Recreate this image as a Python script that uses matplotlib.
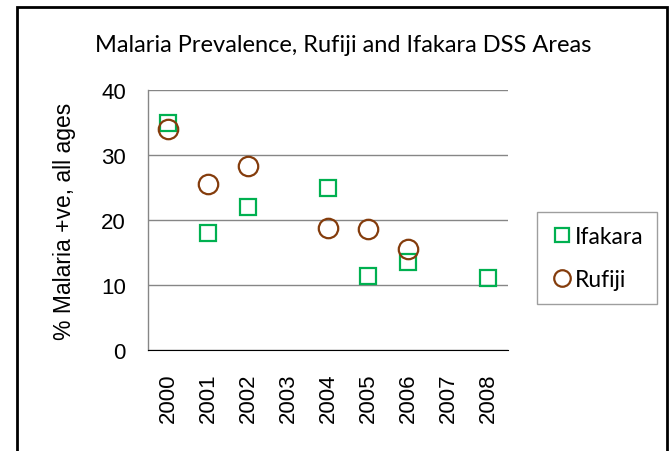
import matplotlib.pyplot as plt
from matplotlib.patches import Rectangle
import numpy as np

years = ['2000', '2001', '2002', '2003', '2004', '2005', '2006', '2007', '2008']
ifakara = [35.0, 18.0, 22.0, np.nan, 25.0, 11.4, 13.6, np.nan, 11.1]
rufiji = [34.0, 25.5, 28.3, np.nan, 18.8, 18.6, 15.5, np.nan, np.nan]

green = '#00B050'
brown = '#843C0C'

fig = plt.figure(figsize=(6.72, 4.52), dpi=100)
ax = fig.add_axes([148 / 672, 1 - 351 / 452, 360 / 672, 260 / 452])

x = np.arange(len(years))
ax.plot(x, ifakara, 's', ms=11.5, mfc='none', mec=green, mew=1.6, label='Ifakara', zorder=3)
ax.plot(x, rufiji, 'o', ms=14, mfc='none', mec=brown, mew=1.6, label='Rufiji', zorder=3)

ax.set_xlim(-0.5, len(years) - 0.5)
ax.set_ylim(0, 40)
ax.set_yticks([0, 10, 20, 30, 40])
ax.set_xticks(x)
ax.set_xticklabels(years, rotation=90, fontsize=16, family='Liberation Sans')
ax.tick_params(axis='y', labelsize=16, length=0, pad=16)
ax.tick_params(axis='x', length=0, pad=16)
for lab in ax.get_yticklabels():
    lab.set_family('Liberation Sans')
ax.grid(axis='y', color='#868686', lw=1)
ax.set_axisbelow(True)
for s in ['top', 'right']:
    ax.spines[s].set_visible(False)
ax.spines['left'].set_color('#868686')
ax.spines['bottom'].set_color('black')
ax.spines['left'].set_linewidth(1)
ax.set_ylabel('% Malaria +ve, all ages', fontsize=16.5, family='Liberation Sans', labelpad=18)

fig.text(343 / 672, 1 - 45 / 452, 'Malaria Prevalence, Rufiji and Ifakara DSS Areas',
         ha='center', va='center', fontsize=17, family='Lato')

leg = ax.legend(loc='center left', bbox_to_anchor=(537 / 672, 1 - 259 / 452),
                bbox_transform=fig.transFigure, frameon=True, fancybox=False,
                prop={'family': 'Lato', 'size': 16.5}, handletextpad=0.05,
                handlelength=1.0, labelspacing=1.0, borderpad=0.6, borderaxespad=0,
                markerscale=0.85)
leg.get_frame().set_edgecolor('#868686')
leg.get_frame().set_linewidth(1)

fig.patches.append(Rectangle((17 / 672, -0.1), 650 / 672, 1.1 - 8 / 452,
                             transform=fig.transFigure, fill=False,
                             edgecolor='black', lw=2))

fig.savefig('out.png', dpi=100)
